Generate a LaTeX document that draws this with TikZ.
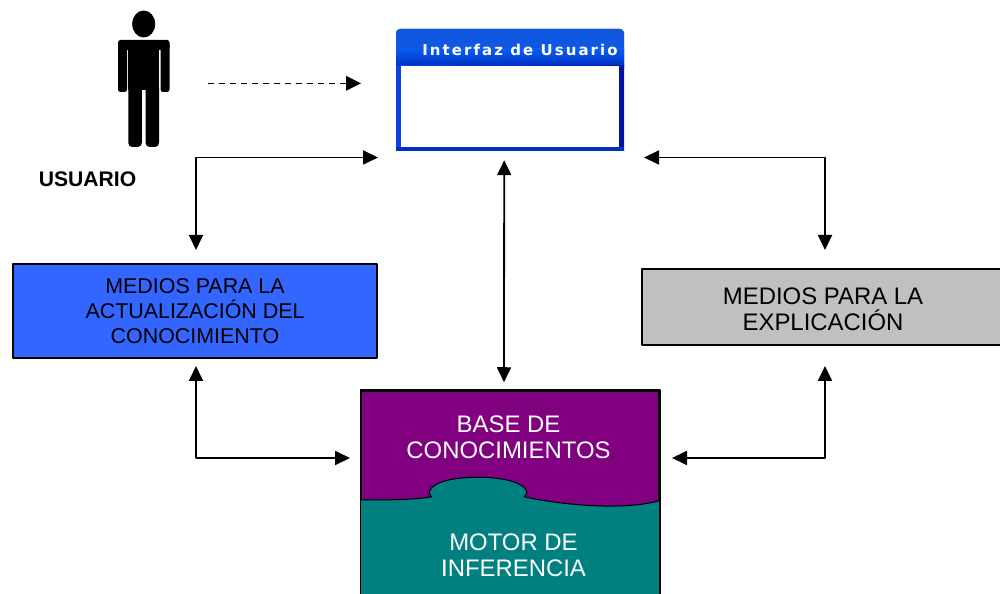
\documentclass[tikz,border=0pt]{standalone}
\usepackage{fontspec}
\setmainfont{Liberation Sans}
\newfontfamily\titlefont[LetterSpace=14]{DejaVu Sans}
\usetikzlibrary{arrows.meta}
\definecolor{boxblue}{HTML}{3366FF}
\definecolor{boxgray}{HTML}{C0C0C0}
\definecolor{basepurple}{HTML}{800080}
\definecolor{motorteal}{HTML}{008080}
\definecolor{barlight}{HTML}{0A5CF0}
\definecolor{bartop}{HTML}{1056DC}
\definecolor{bardark}{HTML}{0030C0}
\definecolor{frameleft}{HTML}{1040E0}
\definecolor{frameright}{HTML}{0014A4}
\tikzset{
  link/.style={black,line width=1.8bp,{Triangle[length=15bp,width=14bp]}-{Triangle[length=15bp,width=14bp]}},
  box/.style={draw=black,line width=1.5bp,align=center,inner sep=0pt},
  smalltext/.style={font=\fontsize{21.5}{25.1}\selectfont},
  bigtext/.style={font=\fontsize{24}{26.5}\selectfont},
}

\begin{document}
\begin{tikzpicture}[line join=bevel,]
\useasboundingbox (0bp,0bp) rectangle (1000bp,594bp);
%% user figure
\fill (143.7bp,570bp) ellipse (11.5bp and 13.5bp);
\fill [rounded corners=2.5bp] (118bp,554bp) rectangle (169.5bp,544bp);
\fill [rounded corners=2.5bp] (118bp,552bp) rectangle (127bp,502bp);
\fill [rounded corners=2.5bp] (160.5bp,552bp) rectangle (169.5bp,502bp);
\fill (128.3bp,554bp) rectangle (159bp,504bp);
\fill [rounded corners=4bp] (128.3bp,510bp) rectangle (141.8bp,447bp);
\fill [rounded corners=4bp] (145.6bp,510bp) rectangle (159bp,447bp);
%% window
\fill [rounded corners=4bp,top color=bartop,bottom color=barlight] (396bp,565bp) rectangle (624bp,520bp);
\fill [top color=barlight,bottom color=bardark] (396bp,545bp) rectangle (624bp,528bp);
\fill [left color=frameleft,right color=frameright] (396bp,528bp) rectangle (624bp,443bp);
\fill [bardark] (396bp,447bp) rectangle (624bp,443bp);
\node (node_window) at (510.2bp,487.5bp) [fill=white,minimum width=217.5bp,minimum height=81bp,inner sep=0pt] {};
\node (node_title) at (520bp,544bp) [text=white,inner sep=0pt] {\titlefont\fontsize{15}{16}\selectfont\bfseries Interfaz de Usuario};
\node (node_user) at (87.5bp,415bp) [inner sep=0pt,font=\fontsize{21.2}{25}\selectfont\bfseries] {USUARIO};
%% boxes
\node (node_update) at (195bp,283bp) [box,smalltext,fill=boxblue,minimum width=364bp,minimum height=94bp] {MEDIOS PARA LA\\ACTUALIZACIÓN DEL\\CONOCIMIENTO};
\node (node_explain) at (823bp,287bp) [box,bigtext,fill=boxgray,minimum width=362bp,minimum height=76bp] {\rule{0pt}{21bp}MEDIOS PARA LA\\EXPLICACIÓN};
\node (node_base) at (510bp,98.5bp) [box,fill=basepurple,minimum width=298bp,minimum height=209bp] {};
\fill [motorteal] (361bp,94bp) .. controls (385bp,94bp) and (415bp,94bp) .. (431.7bp,97.3bp)
  .. controls (425bp,101bp) and (430bp,116.7bp) .. (478bp,116.7bp)
  .. controls (525bp,116.7bp) and (532bp,101bp) .. (524bp,97.3bp)
  .. controls (550bp,91bp) and (620bp,82bp) .. (659bp,93.3bp)
  -- (659bp,-6bp) -- (361bp,-6bp) -- cycle;
\draw [line width=1bp] (361bp,94bp) .. controls (385bp,94bp) and (415bp,94bp) .. (431.7bp,97.3bp)
  .. controls (425bp,101bp) and (430bp,116.7bp) .. (478bp,116.7bp)
  .. controls (525bp,116.7bp) and (532bp,101bp) .. (524bp,97.3bp)
  .. controls (550bp,91bp) and (620bp,82bp) .. (659bp,93.3bp);
\draw [line width=1.5bp] (node_base.north west) rectangle (node_base.south east);
\node (node_know) at (508.5bp,157bp) [bigtext,text=white,align=center,inner sep=0pt] {BASE DE\\CONOCIMIENTOS};
\node (node_motor) at (513.5bp,38.5bp) [bigtext,text=white,align=center,inner sep=0pt] {MOTOR DE\\INFERENCIA};
%% connectors
\coordinate (dash_start) at (208bp,510.7bp);
\coordinate (dash_end) at (361bp,510.7bp);
\draw [black,line width=1.3bp,dash pattern=on 6bp off 5bp,-{Triangle[length=15bp,width=15bp,line width=0pt]}] (dash_start) -- (dash_end);
\coordinate (left_up) at (378bp,436.5bp);
\coordinate (left_corner) at (196bp,436.5bp);
\coordinate (left_down) at (196bp,344bp);
\draw [link] (left_up) -- (left_corner) -- (left_down);
\coordinate (right_up) at (644bp,436.5bp);
\coordinate (right_corner) at (825bp,436.5bp);
\coordinate (right_down) at (825bp,344bp);
\draw [link] (right_up) -- (right_corner) -- (right_down);
\draw [link] ([xshift=-6bp,yshift=-13bp]node_window.south) -- ([xshift=-6bp,yshift=8bp]node_base.north);
\coordinate (low_left_up) at (196bp,228bp);
\coordinate (low_left_corner) at (196bp,136bp);
\coordinate (low_left_end) at (350bp,136bp);
\draw [link] (low_left_up) -- (low_left_corner) -- (low_left_end);
\coordinate (low_right_up) at (825bp,228bp);
\coordinate (low_right_corner) at (825bp,136bp);
\coordinate (low_right_end) at (672bp,136bp);
\draw [link] (low_right_up) -- (low_right_corner) -- (low_right_end);
%
\end{tikzpicture}
\end{document}
